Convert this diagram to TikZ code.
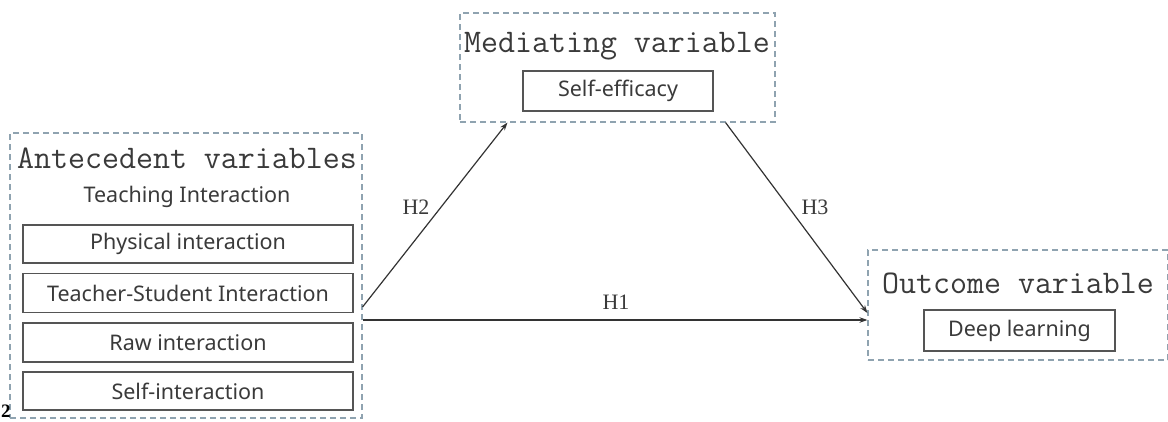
\documentclass[tikz,border=0pt]{standalone}
\usepackage{fontspec}
\setmainfont{Liberation Serif}
\newfontfamily\sansf{Noto Sans}
\usetikzlibrary{arrows.meta}
\definecolor{dashc}{HTML}{8FA3B0}
\definecolor{boxc}{HTML}{555555}
\definecolor{txtc}{HTML}{3A3A3A}
\definecolor{arrc}{HTML}{333333}
\begin{document}
\begin{tikzpicture}[x=1pt,y=-1pt,
  outerbox/.style={draw=dashc, line width=1.1pt, dash pattern=on 6pt off 4pt, inner sep=0pt},
  innerbox/.style={draw=boxc, line width=1.8pt, inner sep=0pt, font=\sansf\fontsize{21.5}{23}\selectfont, text=txtc},
  titletext/.style={font=\ttfamily\fontsize{33}{36}\selectfont, text=txtc, inner sep=0pt},
  subtext/.style={font=\sansf\fontsize{21.5}{23}\selectfont, text=txtc, inner sep=0pt},
  hlabel/.style={font=\fontsize{22}{24}\selectfont, text=txtc, inner sep=0pt},
  arr/.style={draw=arrc, line width=1.2pt, -{Stealth[length=8pt,width=5.5pt]}}]
\useasboundingbox[fill=white] (0,0) rectangle (1168,421);

% Antecedent
\node[outerbox, minimum width=352pt, minimum height=285pt] (ant) at (186,275.5) {};
\node[titletext] (antt) at (187,158) {Antecedent variables};
\node[subtext] (teach) at (187,197) {Teaching Interaction};
\node[innerbox, minimum width=330pt, minimum height=38pt] (phys) at (188,244) {Physical interaction};
\node[innerbox, minimum width=330pt, minimum height=39pt] (ts) at (188,293) {Teacher-Student Interaction};
\node[innerbox, minimum width=330pt, minimum height=39pt] (raw) at (188,342.5) {Raw interaction};
\node[innerbox, minimum width=330pt, minimum height=38pt] (self) at (188,391) {Self-interaction};

% Mediating
\node[outerbox, minimum width=315pt, minimum height=109pt] (med) at (617.5,67.5) {};
\node[titletext] (medt) at (617,46) {Mediating variable};
\node[innerbox, minimum width=190pt, minimum height=40pt] (se) at (618,91) {Self-efficacy};

% Outcome
\node[outerbox, minimum width=300pt, minimum height=110pt] (out) at (1018,305) {};
\node[titletext] (outt) at (1018,283) {Outcome variable};
\node[innerbox, minimum width=191pt, minimum height=41pt] (dl) at (1019.5,330.5) {Deep learning};

% Arrows
\draw[arr] ([yshift=-44.5pt]ant.east) -- ([yshift=-44.5pt]ant.east -| out.west);
\draw[arr] ([yshift=-31.5pt]ant.east) -- ([xshift=48pt]med.south west);
\draw[arr] ([xshift=-50pt]med.south east) -- ([yshift=-8pt]out.west);

\node[hlabel] (h1) at (616,302) {H1};
\node[hlabel] (h2) at (416,207) {H2};
\node[hlabel] (h3) at (815,207) {H3};

\node[font=\bfseries\fontsize{19}{21}\selectfont, inner sep=0pt, anchor=base] (two) at (6,417) {2};
\end{tikzpicture}
\end{document}
